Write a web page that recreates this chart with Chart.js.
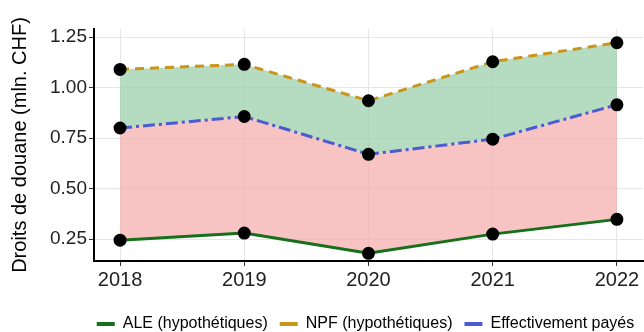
<!DOCTYPE html>
<html>
<head>
<meta charset="utf-8">
<script src="https://cdn.jsdelivr.net/npm/chart.js@4"></script>
<style>
  html, body { margin: 0; padding: 0; background: #fff; }
  #wrap { width: 644px; height: 332px; }
</style>
</head>
<body>
<div id="wrap"><canvas id="myChart" width="644" height="332"></canvas></div>
<script>
const years = [2018, 2019, 2020, 2021, 2022];
const ale = [0.245, 0.28, 0.18, 0.275, 0.348];
const npf = [1.09, 1.115, 0.935, 1.128, 1.222];
const paye = [0.80, 0.857, 0.67, 0.745, 0.915];
const yTicks = [0.25, 0.50, 0.75, 1.00, 1.25];

const pts = arr => arr.map((v, i) => ({ x: years[i], y: v }));

// legend sits under the plot panel, lower than the default spot
const legendShift = {
  id: 'legendShift',
  afterLayout(chart) {
    const lg = chart.legend;
    const dx = (chart.chartArea.left + chart.chartArea.right) / 2 - (lg.left + lg.right) / 2 - 3;
    lg.left += dx; lg.right += dx;
    lg.top += 10; lg.bottom += 10;
  }
};

new Chart(document.getElementById('myChart'), {
  type: 'line',
  data: {
    datasets: [
      {
        label: 'ALE (hypothétiques)', data: pts(ale),
        borderColor: '#16701a', borderWidth: 3, fill: false
      },
      {
        label: 'NPF (hypothétiques)', data: pts(npf),
        borderColor: '#c9951a', borderWidth: 3, borderDash: [9, 6],
        fill: { target: 2 }, backgroundColor: 'rgba(150,205,165,0.7)'
      },
      {
        label: 'Effectivement payés', data: pts(paye),
        borderColor: '#4b5bd0', borderWidth: 3, borderDash: [12, 4, 3, 4],
        fill: { target: 0 }, backgroundColor: 'rgba(244,170,170,0.7)'
      }
    ]
  },
  plugins: [legendShift],
  options: {
    responsive: false,
    animation: false,
    layout: { autoPadding: false, padding: { top: 29, right: 1, left: 8, bottom: 0 } },
    elements: {
      line: { tension: 0 },
      point: { radius: 5, backgroundColor: '#000', borderColor: '#000', hoverRadius: 5 }
    },
    datasets: { line: { pointBackgroundColor: '#000', pointBorderColor: '#000' } },
    scales: {
      x: {
        type: 'linear', min: 2017.79, max: 2022.21,
        afterBuildTicks: s => { s.ticks = years.map(v => ({ value: v })); },
        ticks: { color: '#222', font: { family: 'Liberation Sans', size: 20 }, padding: 2,
          callback: v => String(v) },
        grid: { color: '#e6e6e6', tickColor: '#333', tickLength: 5 },
        border: { color: '#000', width: 2 }
      },
      y: {
        min: 0.142, max: 1.29,
        afterBuildTicks: s => { s.ticks = yTicks.map(v => ({ value: v })); },
        ticks: { color: '#222', font: { family: 'Liberation Sans', size: 19 }, padding: 2,
          callback: v => v.toFixed(2) },
        grid: { color: '#e6e6e6', tickColor: '#333', tickLength: 5 },
        border: { color: '#000', width: 2 },
        title: { display: true, text: 'Droits de douane (mln. CHF)', color: '#000',
          font: { family: 'Liberation Sans', size: 20 }, padding: { top: 0, bottom: 16 } }
      }
    },
    plugins: {
      tooltip: { enabled: false },
      filler: { drawTime: 'beforeDatasetsDraw' },
      legend: {
        position: 'bottom',
        labels: {
          font: { family: 'Liberation Sans', size: 16 }, color: '#000',
          boxWidth: 18, boxHeight: 4, padding: 12,
          generateLabels: chart => chart.data.datasets.map((d, i) => ({
            text: d.label, fillStyle: d.borderColor, strokeStyle: d.borderColor,
            lineWidth: 0, datasetIndex: i
          }))
        }
      }
    }
  }
});
</script>
</body>
</html>
